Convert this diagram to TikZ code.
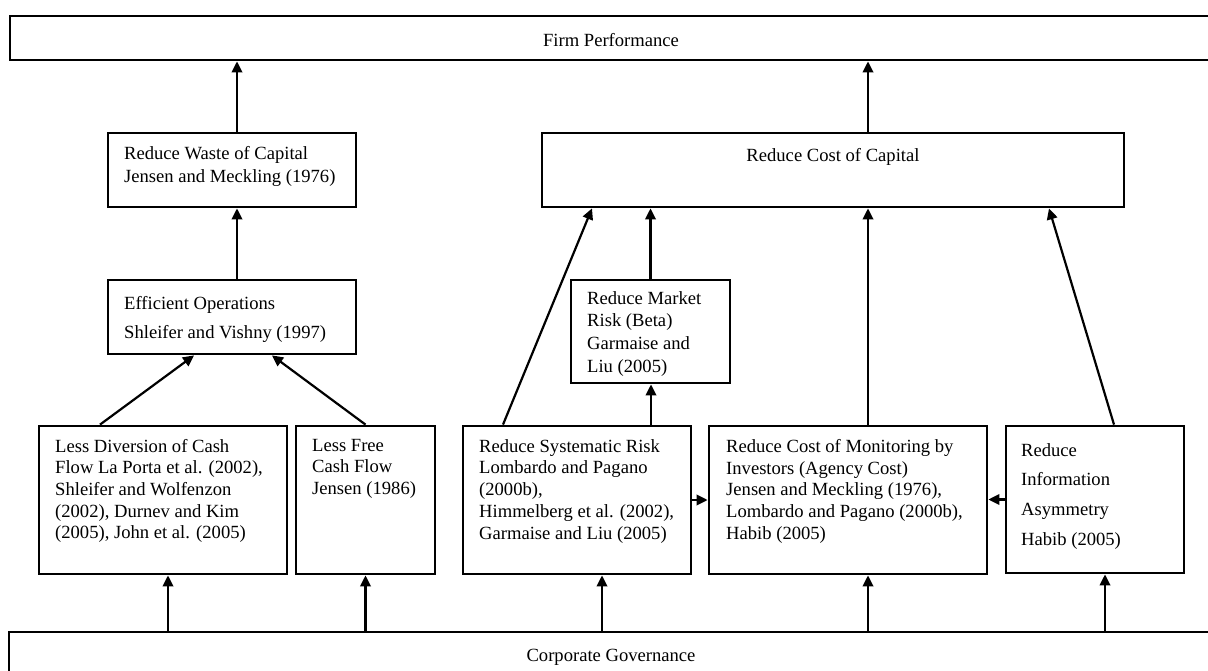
\documentclass[tikz,border=0pt]{standalone}
\usepackage{fontspec}
\setmainfont{Liberation Serif}
\usetikzlibrary{arrows.meta}
\begin{document}
\begin{tikzpicture}[x=1pt,y=-1pt,
  box/.style={draw, line width=2.8pt, inner sep=0pt},
  arr/.style={line width=2.2pt, -{Triangle[length=11pt,width=10.5pt]}},
  txt/.style={anchor=north west, inner sep=0pt, align=left, font=\fontsize{18.6}{#1}\selectfont},
  ctxt/.style={anchor=center, inner sep=0pt, font=\fontsize{18.6}{22}\selectfont}]
\useasboundingbox (0,0) rectangle (1208,671);
\begin{scope}
\clip (0,0) rectangle (1208,671);
% boxes
\node[box, minimum width=1210pt, minimum height=44pt] (fp) at (615,38) {};
\node[box, minimum width=1210pt, minimum height=60pt] (cg) at (614,662) {};
\end{scope}
\node[ctxt] (fpt) at (611,40) {Firm Performance};
\node[ctxt] (cgt) at (611,657) {Corporate Governance};

\node[box, minimum width=248pt, minimum height=74pt] (rw) at (232,170) {};
\node[box, minimum width=248pt, minimum height=74pt] (eo) at (232,317) {};
\node[box, minimum width=248pt, minimum height=148pt] (ld) at (163,500) {};
\node[box, minimum width=139pt, minimum height=148pt] (lf) at (365.5,500) {};
\node[box, minimum width=582pt, minimum height=74pt] (rc) at (833,170) {};
\node[box, minimum width=159pt, minimum height=103pt] (mr) at (650.5,331.5) {};
\node[box, minimum width=228pt, minimum height=148pt] (sr) at (577,500) {};
\node[box, minimum width=278pt, minimum height=148pt] (cm) at (848,500) {};
\node[box, minimum width=178pt, minimum height=147pt] (ia) at (1095,499.5) {};

% texts
\node[txt=23] (rwt) at (124,146) {Reduce Waste of Capital\\Jensen and Meckling (1976)};
\node[txt=29] (eot) at (124,296) {Efficient Operations\\Shleifer and Vishny (1997)};
\node[txt=21.6] (ldt) at (55,439) {Less Diversion of Cash\\Flow La Porta et al. (2002),\\Shleifer and Wolfenzon\\(2002), Durnev and Kim\\(2005), John et al. (2005)};
\node[txt=21.6] (lft) at (312,439) {Less Free\\Cash Flow\\Jensen (1986)};
\node[ctxt] (rct) at (833,157) {Reduce Cost of Capital};
\node[txt=22.7] (mrt) at (587,291) {Reduce Market\\Risk (Beta)\\Garmaise and\\Liu (2005)};
\node[txt=21.8] (srt) at (479,439) {Reduce Systematic Risk\\Lombardo and Pagano\\(2000b),\\Himmelberg et al. (2002),\\Garmaise and Liu (2005)};
\node[txt=21.8] (cmt) at (726,439) {Reduce Cost of Monitoring by\\Investors (Agency Cost)\\Jensen and Meckling (1976),\\Lombardo and Pagano (2000b),\\Habib (2005)};
\node[txt=29.7] (iat) at (1021,443) {Reduce\\Information\\Asymmetry\\Habib (2005)};

% arrows to Firm Performance
\coordinate (a1) at ([xshift=5]rw.north);
\draw[arr] (a1) -- (a1 |- fp.south);
\coordinate (a2) at ([xshift=35]rc.north);
\draw[arr] (a2) -- (a2 |- fp.south);
% left column
\coordinate (a0) at ([xshift=5]eo.north);
\draw[arr] (a0) -- (a0 |- rw.south);
\draw[arr] ([xshift=-63]ld.north) -- ([xshift=-38]eo.south);
\draw[arr] (lf.north) -- ([xshift=40]eo.south);
% right part
\draw[arr] ([xshift=-74]sr.north) -- ([xshift=-241]rc.south);
\coordinate (a3) at ([xshift=74]sr.north);
\draw[arr] (a3) -- (a3 |- mr.south);
\draw[arr] (mr.north) -- (mr.north |- rc.south);
\coordinate (a4) at ([xshift=20]cm.north);
\draw[arr] (a4) -- (a4 |- rc.south);
\draw[arr] ([xshift=19]ia.north) -- ([xshift=216]rc.south);
\draw[arr] (sr.east) -- (sr.east -| cm.west);
\draw[arr] (ia.west) -- (ia.west -| cm.east);
% arrows from Corporate Governance
\coordinate (b1) at ([xshift=5]ld.south);
\draw[arr] (b1 |- cg.north) -- (b1);
\coordinate (b2) at (lf.south);
\draw[arr] (b2 |- cg.north) -- (b2);
\coordinate (b3) at ([xshift=25]sr.south);
\draw[arr] (b3 |- cg.north) -- (b3);
\coordinate (b4) at ([xshift=20]cm.south);
\draw[arr] (b4 |- cg.north) -- (b4);
\coordinate (b5) at ([xshift=10]ia.south);
\draw[arr] (b5 |- cg.north) -- (b5);
\end{tikzpicture}
\end{document}
